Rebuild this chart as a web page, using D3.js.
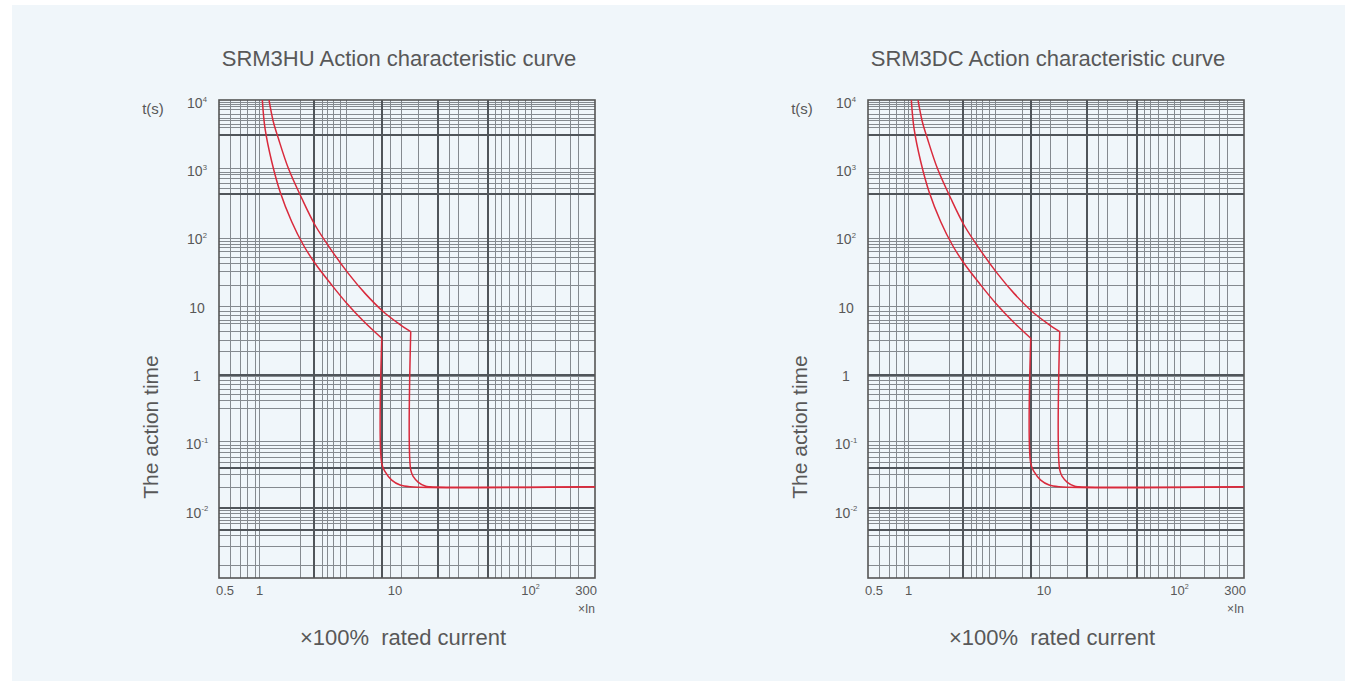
<!DOCTYPE html>
<html>
<head>
  <meta charset="UTF-8">
  <title>SRM3 Action characteristic curves</title>
  <script src="https://d3js.org/d3.v7.min.js"></script>
  <style>
    body {
      margin: 0;
      background: #fff;
    }

    text {
      font-family: "Liberation Sans", Arial, sans-serif;
      fill: #585858;
      white-space: pre;
    }

    .grid-minor {
      stroke: #858a8f;
      stroke-width: 1;
      shape-rendering: crispEdges;
    }

    .grid-major {
      stroke: #50555a;
      stroke-width: 2;
      shape-rendering: crispEdges;
    }

    .curve {
      fill: none;
      stroke: #d92a3c;
      stroke-width: 1.5;
    }
  </style>
</head>
<body>
  <div id="chart"></div>

  <script>
    // chart titles
    const chartTitles = ["SRM3HU Action characteristic curve", "SRM3DC Action characteristic curve"];

    // axis ticks (base, superscript)
    const xTickValues = [0.5, 1, 10, 100, 300];
    const xTickLabels = [["0.5", ""], ["1", ""], ["10", ""], ["10", "2"], ["300", ""]];
    const yTickValues = [1e4, 1e3, 1e2, 10, 1, 0.1, 0.01];
    const yTickLabels = [["10", "4"], ["10", "3"], ["10", "2"], ["10", ""], ["1", ""], ["10", "-1"], ["10", "-2"]];

    // grid lines of the printed chart paper
    const xGridMinor = [0.61, 0.715, 0.815, 0.923, 1, 2, 2.92, 3.16, 3.5, 3.92, 4.39, 6.91, 9.18, 11.2, 14.9,
      25.2, 29.3, 41.2, 54.8, 61.4, 69.5, 81.4, 91.2, 101, 152, 199, 226];
    const xGridMajor = [2.5, 8, 20.7, 48.9];
    const yGridMinor = [10200, 9350, 8830, 7890, 6660, 5970, 5450, 4760, 4300,
      1077, 962, 879, 786, 663, 561,
      103.5, 92.3, 84.5, 75.4, 65.9, 53.8, 44.5, 33.5, 21.4,
      10.3, 8.89, 7.78, 6.56, 5.87, 4.42, 3.34, 2.25,
      0.966, 0.864, 0.748, 0.638, 0.533, 0.44, 0.339,
      0.11, 0.0962, 0.0861, 0.0752, 0.0648, 0.0547, 0.0357, 0.0235,
      0.0107, 0.00957, 0.00853, 0.00763, 0.00683, 0.0046, 0.00321, 0.00167];
    const yGridMajor = [3390, 458, 1.047, 0.0447, 0.01156, 0.00563];

    // lower boundary curve (current multiple, time s)
    const lowerCurveI = [1.045, 1.094, 1.227, 1.413, 1.723, 2.10, 2.56, 3.40, 4.39, 5.83, 7.97];
    const lowerCurveT = [11000, 4230, 1372, 499, 181.5, 82.8, 44.7, 21.5, 11.6, 6.38, 3.56];
    const lowerTripI = [7.97, 7.97, 8.43, 9.44, 10.9, 12.9, 300];
    const lowerTripT = [3.56, 0.0526, 0.0396, 0.0299, 0.0253, 0.0239, 0.0239];

    // upper boundary curve
    const upperCurveI = [1.171, 1.26, 1.372, 1.627, 2.043, 2.56, 3.31, 4.51, 6.0, 8.19, 10.57, 13.05];
    const upperCurveT = [11000, 5290, 3020, 1099, 400, 162.5, 74, 31.8, 16.2, 8.73, 5.9, 4.45];
    const upperTripI = [13.05, 13.05, 13.64, 14.85, 16.65, 18.1, 300];
    const upperTripT = [4.45, 0.042, 0.0335, 0.0277, 0.0245, 0.0239, 0.0239];

    const W = 1357, H = 687;
    const svg = d3.select("#chart")
      .append("svg")
      .attr("width", W)
      .attr("height", H);

    // pale panel behind both charts
    svg.append("rect")
      .attr("x", 12).attr("y", 5)
      .attr("width", 1333).attr("height", 676)
      .attr("fill", "#f0f6fa");

    const plotW = 376, plotH = 478;
    const offsets = [219, 868];

    function supText(sel, pair, size) {
      sel.append("tspan").text(pair[0]);
      if (pair[1]) {
        sel.append("tspan")
          .attr("dy", -size * 0.45)
          .style("font-size", (size * 0.55) + "px")
          .text(pair[1]);
      }
    }

    chartTitles.forEach((title, k) => {
      const left = offsets[k], top = 100;
      const g = svg.append("g").attr("transform", `translate(${left},${top})`);

      const x = d3.scaleLog().domain([0.5, 300]).range([0, plotW]);
      const y = d3.scaleLog().domain([0.0011, 11000]).range([plotH, 0]);

      g.append("clipPath").attr("id", "clip" + k)
        .append("rect").attr("width", plotW).attr("height", plotH);

      // grid
      g.selectAll(".vmin").data(xGridMinor).join("line")
        .attr("class", "grid-minor")
        .attr("x1", d => x(d)).attr("x2", d => x(d))
        .attr("y1", 0).attr("y2", plotH);
      g.selectAll(".hmin").data(yGridMinor).join("line")
        .attr("class", "grid-minor")
        .attr("y1", d => y(d)).attr("y2", d => y(d))
        .attr("x1", 0).attr("x2", plotW);
      g.selectAll(".vmaj").data(xGridMajor).join("line")
        .attr("class", "grid-major")
        .attr("x1", d => x(d)).attr("x2", d => x(d))
        .attr("y1", 0).attr("y2", plotH);
      g.selectAll(".hmaj").data(yGridMajor).join("line")
        .attr("class", "grid-major")
        .attr("y1", d => y(d)).attr("y2", d => y(d))
        .attr("x1", 0).attr("x2", plotW);

      g.append("rect")
        .attr("width", plotW).attr("height", plotH)
        .attr("fill", "none")
        .attr("stroke", "#555")
        .attr("stroke-width", 1.6);

      // curves
      const line = d3.line()
        .x(d => x(d[0]))
        .y(d => y(d[1]))
        .curve(d3.curveCatmullRom.alpha(0.5));

      const curves = g.append("g").attr("clip-path", `url(#clip${k})`);
      [[lowerCurveI, lowerCurveT], [lowerTripI, lowerTripT],
       [upperCurveI, upperCurveT], [upperTripI, upperTripT]].forEach(([xs, ts]) => {
        curves.append("path")
          .attr("class", "curve")
          .attr("d", line(xs.map((v, i) => [v, ts[i]])));
      });

      // x tick labels
      xTickValues.forEach((v, i) => {
        const last = i === xTickValues.length - 1;
        const t = g.append("text")
          .attr("x", i === 0 ? x(v) - 3 : last ? x(v) + 2 : x(v))
          .attr("y", plotH + 17)
          .attr("text-anchor", i === 0 ? "start" : last ? "end" : "middle")
          .style("font-size", "13px");
        supText(t, xTickLabels[i], 13);
      });
      g.append("text")
        .attr("x", plotW)
        .attr("y", plotH + 35)
        .attr("text-anchor", "end")
        .style("font-size", "12px")
        .text("×In");

      // y tick labels
      yTickValues.forEach((v, i) => {
        const t = g.append("text")
          .attr("x", -22)
          .attr("y", y(v) + 5)
          .attr("text-anchor", "middle")
          .style("font-size", "14px");
        supText(t, yTickLabels[i], 14);
      });
      g.append("text")
        .attr("x", -66)
        .attr("y", 14)
        .attr("text-anchor", "middle")
        .style("font-size", "15px")
        .text("t(s)");

      // axis titles
      g.append("text")
        .attr("transform", `translate(${-61},${327}) rotate(-90)`)
        .attr("text-anchor", "middle")
        .style("font-size", "21px")
        .text("The action time");
      g.append("text")
        .attr("x", plotW / 2 - 4)
        .attr("y", plotH + 67)
        .attr("text-anchor", "middle")
        .style("font-size", "22px")
        .text("×100%  rated current");

      // chart title
      svg.append("text")
        .attr("x", left + 180)
        .attr("y", 66)
        .attr("text-anchor", "middle")
        .style("font-size", "22px")
        .text(title);
    });
  </script>
</body>
</html>
